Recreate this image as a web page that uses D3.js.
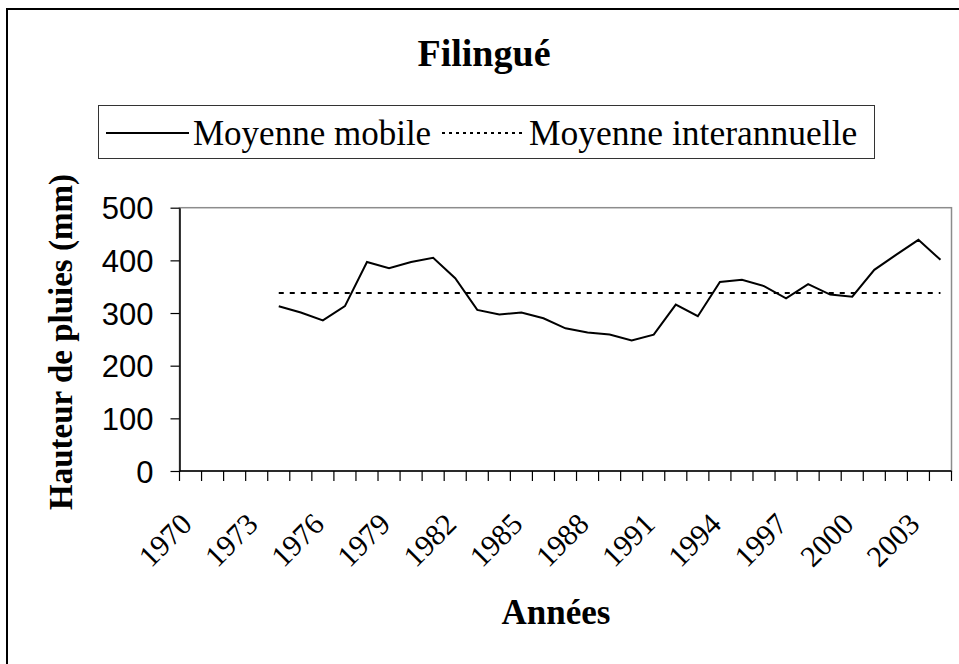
<!DOCTYPE html>
<html>
<head>
<meta charset="utf-8">
<script src="https://cdn.jsdelivr.net/npm/d3@7"></script>
<style>
  body { margin: 0; background: #fff; }
  svg { display: block; }
</style>
</head>
<body>
<svg id="chart" width="959" height="664"></svg>
<script>
// categories (years) and series
const years = [1970, 1971, 1972, 1973, 1974, 1975, 1976, 1977, 1978, 1979,
               1980, 1981, 1982, 1983, 1984, 1985, 1986, 1987, 1988, 1989,
               1990, 1991, 1992, 1993, 1994, 1995, 1996, 1997, 1998, 1999,
               2000, 2001, 2002, 2003, 2004];
const movingAvg = [null, null, null, null, 313, 301, 286, 313, 397, 385,
                   397, 405, 366, 306, 297, 301, 290, 271, 263, 259,
                   248, 259, 316, 294, 359, 363, 351, 328, 355, 335,
                   331, 382, 411, 439, 401];
const meanValue = 338;
const meanYears = [1974, 2004];
const yTicks = [0, 100, 200, 300, 400, 500];
const xLabelYears = [1970, 1973, 1976, 1979, 1982, 1985, 1988, 1991, 1994, 1997, 2000, 2003];

const serif = "'Liberation Serif', 'Times New Roman', serif";
const sans = "'Liberation Sans', Arial, sans-serif";

let svg = d3.select("#chart");

// outer frame (cut by the picture on right / bottom)
svg.append("rect")
    .attr("x", 7).attr("y", 9)
    .attr("width", 970).attr("height", 680)
    .attr("fill", "none").attr("stroke", "#000").attr("stroke-width", 2);

let plot = {left: 179.5, right: 951.5, top: 207.7, bottom: 471};

let x = d3.scaleBand()
    .domain(years)
    .range([plot.left, plot.right])
    .padding(0);

let y = d3.scaleLinear()
    .domain([0, 500])
    .range([plot.bottom, plot.top]);

let cx = d => x(d) + x.bandwidth() / 2;

// plot area border (grey top / right)
svg.append("rect")
    .attr("x", plot.left).attr("y", plot.top)
    .attr("width", plot.right - plot.left).attr("height", plot.bottom - plot.top)
    .attr("fill", "none").attr("stroke", "#8c8c8c").attr("stroke-width", 1.5);

// y axis
let yAxis = svg.append("g")
    .attr("transform", "translate(" + plot.left + ",0)")
    .call(d3.axisLeft(y).tickValues(yTicks).tickSize(9).tickPadding(17).tickSizeOuter(0));
yAxis.select(".domain").attr("stroke", "#000").attr("stroke-width", 1.5);
yAxis.selectAll(".tick line").attr("stroke", "#000").attr("stroke-width", 1.2);
yAxis.selectAll(".tick text")
    .attr("font-family", sans).attr("font-size", 31).attr("fill", "#000")
    .attr("dy", "0.36em");

// x axis: line + ticks at category boundaries
let xg = svg.append("g");
xg.append("line")
    .attr("x1", plot.left).attr("x2", plot.right)
    .attr("y1", plot.bottom).attr("y2", plot.bottom)
    .attr("stroke", "#000").attr("stroke-width", 1.5);
let bounds = years.map(d => x(d)).concat([x(years[years.length - 1]) + x.step()]);
xg.selectAll(".xtick")
    .data(bounds)
    .enter().append("line")
    .attr("class", "xtick")
    .attr("x1", d => d).attr("x2", d => d)
    .attr("y1", plot.bottom).attr("y2", plot.bottom + 10)
    .attr("stroke", "#000").attr("stroke-width", 1.2);
xg.selectAll(".xlabel")
    .data(xLabelYears)
    .enter().append("text")
    .attr("class", "xlabel")
    .attr("text-anchor", "end")
    .attr("font-family", serif).attr("font-size", 30)
    .attr("transform", d => "translate(" + (cx(d) + 3) + "," + 526 + ")rotate(-45)")
    .text(d => d);

// mean line (dashed)
svg.append("line")
    .attr("x1", cx(meanYears[0])).attr("x2", cx(meanYears[1]))
    .attr("y1", y(meanValue)).attr("y2", y(meanValue))
    .attr("stroke", "#000").attr("stroke-width", 2)
    .attr("stroke-dasharray", "5,6");

// moving average line
let line = d3.line()
    .defined(d => d[1] !== null)
    .x(d => cx(d[0]))
    .y(d => y(d[1]));
svg.append("path")
    .datum(years.map((yr, i) => [yr, movingAvg[i]]))
    .attr("fill", "none").attr("stroke", "#000").attr("stroke-width", 2)
    .attr("stroke-linejoin", "miter")
    .attr("d", line);

// title
svg.append("text")
    .attr("x", 484).attr("y", 66)
    .attr("text-anchor", "middle")
    .attr("font-family", serif).attr("font-weight", "bold").attr("font-size", 38)
    .text("Filingué");

// legend
let lg = svg.append("g");
lg.append("rect")
    .attr("x", 98.5).attr("y", 105.5).attr("width", 776).attr("height", 53)
    .attr("fill", "#fff").attr("stroke", "#333").attr("stroke-width", 1);
lg.append("line")
    .attr("x1", 106).attr("x2", 189).attr("y1", 133).attr("y2", 133)
    .attr("stroke", "#000").attr("stroke-width", 2);
lg.append("text")
    .attr("x", 193).attr("y", 145)
    .attr("font-family", serif).attr("font-size", 35)
    .text("Moyenne mobile");
lg.append("line")
    .attr("x1", 442).attr("x2", 526).attr("y1", 133).attr("y2", 133)
    .attr("stroke", "#000").attr("stroke-width", 2)
    .attr("stroke-dasharray", "3,4");
lg.append("text")
    .attr("x", 529).attr("y", 145)
    .attr("font-family", serif).attr("font-size", 35.5)
    .text("Moyenne interannuelle");

// axis titles
svg.append("text")
    .attr("transform", "translate(72,342)rotate(-90)")
    .attr("text-anchor", "middle")
    .attr("font-family", serif).attr("font-weight", "bold").attr("font-size", 33)
    .text("Hauteur de pluies (mm)");

svg.append("text")
    .attr("x", 556).attr("y", 624)
    .attr("text-anchor", "middle")
    .attr("font-family", serif).attr("font-weight", "bold").attr("font-size", 35)
    .text("Années");
</script>
</body>
</html>
